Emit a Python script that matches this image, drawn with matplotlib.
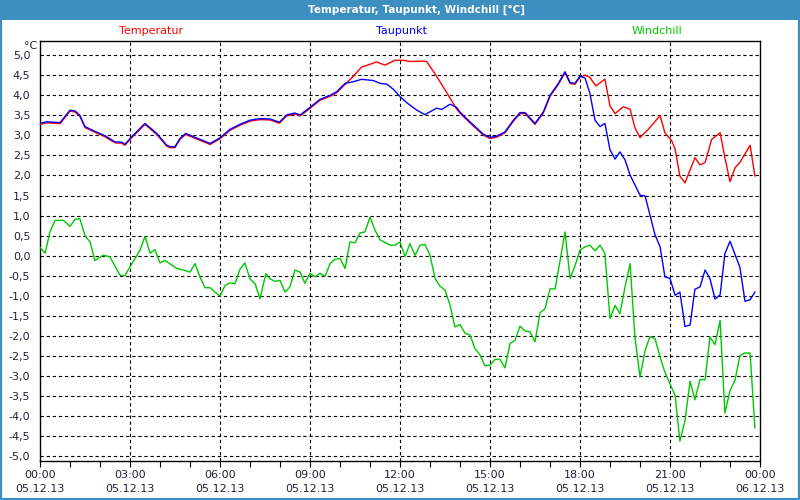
import matplotlib
matplotlib.use("Agg")
import matplotlib.pyplot as plt
import matplotlib.transforms as mtransforms
from matplotlib.patches import Rectangle
from matplotlib.ticker import MultipleLocator, FuncFormatter

# hours since 05.12.13 00:00
shared_h1 = [0, 0.22, 0.67, 1.0, 1.17, 1.33, 1.5, 1.78, 2.17, 2.5, 2.72, 2.83, 3.06, 3.5,
             3.89, 4.22, 4.33, 4.5, 4.67, 4.86, 5.11, 5.44, 5.67, 6.0, 6.33, 6.67, 7.0,
             7.33, 7.67, 7.98, 8.22, 8.5, 8.67, 9.0, 9.33, 9.67, 9.89, 10.17]
shared_v1 = [3.30, 3.34, 3.32, 3.63, 3.61, 3.50, 3.22, 3.12, 2.99, 2.84, 2.83, 2.78, 2.97, 3.30,
             3.05, 2.76, 2.72, 2.72, 2.93, 3.05, 2.97, 2.87, 2.80, 2.94, 3.15, 3.28, 3.38,
             3.42, 3.41, 3.33, 3.51, 3.56, 3.51, 3.70, 3.90, 4.00, 4.09, 4.30]

temp_mid_h = [10.44, 10.72, 11.0, 11.22, 11.5, 11.83, 12.11, 12.33, 12.78, 12.89, 13.22, 13.56, 13.89]
temp_mid_v = [4.50, 4.73, 4.80, 4.86, 4.78, 4.90, 4.90, 4.87, 4.88, 4.87, 4.50, 4.09, 3.68]

dew_mid_h = [10.44, 10.72, 11.11, 11.33, 11.56, 11.78, 12.0, 12.22, 12.56, 12.83, 13.22, 13.39, 13.67, 13.89]
dew_mid_v = [4.34, 4.40, 4.37, 4.30, 4.28, 4.15, 3.97, 3.82, 3.63, 3.52, 3.68, 3.65, 3.78, 3.70]

shared_h2 = [14.0, 14.33, 14.78, 15.0, 15.22, 15.5, 15.78, 16.0, 16.17, 16.5, 16.78, 17.0,
             17.28, 17.5, 17.67, 17.83, 18.0]
shared_v2 = [3.58, 3.34, 3.03, 2.95, 2.98, 3.09, 3.38, 3.57, 3.57, 3.30, 3.59, 4.00,
             4.30, 4.59, 4.32, 4.30, 4.48]

temp_end_h = [18.17, 18.33, 18.53, 18.83, 19.0, 19.17, 19.44, 19.67, 19.83, 20.0, 20.28, 20.67,
              20.83, 21.06, 21.17, 21.33, 21.5, 21.83, 22.0, 22.17, 22.39, 22.67, 22.83, 23.0,
              23.17, 23.33, 23.67, 23.83]
temp_end_v = [4.53, 4.47, 4.26, 4.43, 3.76, 3.57, 3.74, 3.68, 3.22, 2.97, 3.18, 3.52,
              3.09, 2.89, 2.68, 2.01, 1.84, 2.47, 2.29, 2.35, 2.93, 3.09, 2.47, 1.87,
              2.22, 2.35, 2.78, 2.01]

dew_end_h = [18.17, 18.33, 18.5, 18.67, 18.83, 19.0, 19.17, 19.33, 19.5, 19.67, 20.0, 20.17,
             20.5, 20.67, 20.83, 21.0, 21.17, 21.33, 21.5, 21.67, 21.83, 22.0, 22.17, 22.33,
             22.5, 22.67, 22.83, 23.0, 23.33, 23.5, 23.67, 23.83]
dew_end_v = [4.43, 4.05, 3.38, 3.22, 3.30, 2.64, 2.41, 2.59, 2.39, 2.01, 1.51, 1.49,
             0.52, 0.22, -0.53, -0.57, -0.99, -0.91, -1.77, -1.73, -0.84, -0.78, -0.36, -0.57,
             -1.08, -0.98, 0.05, 0.36, -0.29, -1.14, -1.10, -0.91]

wind_h = [0, 0.17, 0.33, 0.5, 0.78, 1.0, 1.17, 1.33, 1.5, 1.67, 1.83, 2.11, 2.33, 2.67, 2.83,
          3.0, 3.33, 3.5, 3.67, 3.83, 4.0, 4.17, 4.56, 4.78, 5.0, 5.17, 5.33, 5.5, 5.67, 5.83,
          6.0, 6.17, 6.33, 6.5, 6.67, 6.83, 7.0, 7.17, 7.33, 7.53, 7.67, 7.83, 8.0, 8.17, 8.33,
          8.5, 8.67, 8.83, 9.0, 9.17, 9.33, 9.5, 9.67, 9.83, 10.0, 10.17, 10.33, 10.5, 10.67,
          10.83, 11.0, 11.17, 11.33, 11.67, 11.83, 12.0, 12.17, 12.33, 12.5, 12.67, 12.83, 13.0,
          13.17, 13.33, 13.5, 13.67, 13.83, 14.0, 14.17, 14.33, 14.5, 14.67, 14.83, 15.0, 15.17,
          15.33, 15.5, 15.67, 15.83, 16.0, 16.17, 16.33, 16.5, 16.67, 16.83, 17.0, 17.17, 17.33,
          17.5, 17.67, 17.83, 18.0, 18.17, 18.33, 18.5, 18.67, 18.83, 19.0, 19.17, 19.33, 19.5,
          19.67, 19.83, 20.0, 20.17, 20.33, 20.5, 20.67, 20.83, 21.0, 21.17, 21.33, 21.5, 21.67,
          21.83, 22.0, 22.17, 22.33, 22.5, 22.67, 22.83, 23.0, 23.17, 23.33, 23.5, 23.67, 23.83]
wind_v = [0.21, 0.06, 0.59, 0.88, 0.88, 0.73, 0.91, 0.92, 0.50, 0.34, -0.12, 0.01, -0.03, -0.49, -0.50,
          -0.28, 0.13, 0.48, 0.06, 0.15, -0.18, -0.12, -0.32, -0.36, -0.41, -0.20, -0.53, -0.80, -0.80, -0.91,
          -1.01, -0.74, -0.68, -0.70, -0.33, -0.18, -0.58, -0.70, -1.08, -0.45, -0.58, -0.64, -0.62, -0.91, -0.78,
          -0.36, -0.41, -0.69, -0.44, -0.53, -0.44, -0.52, -0.20, -0.09, -0.07, -0.32, 0.34, 0.32, 0.57,
          0.59, 0.96, 0.63, 0.40, 0.26, 0.26, 0.34, -0.02, 0.30, 0.01, 0.26, 0.28, 0.01,
          -0.57, -0.76, -0.86, -1.24, -1.78, -1.72, -1.94, -1.98, -2.32, -2.48, -2.75, -2.73, -2.59,
          -2.59, -2.80, -2.19, -2.12, -1.76, -1.88, -1.90, -2.15, -1.42, -1.33, -0.83, -0.83, -0.15,
          0.59, -0.57, -0.26, 0.14, 0.22, 0.26, 0.12, 0.26, 0.05, -1.57, -1.24, -1.45, -0.78,
          -0.20, -2.03, -3.03, -2.37, -2.02, -2.07, -2.53, -2.91, -3.20, -3.49, -4.63, -4.12, -3.13,
          -3.60, -3.09, -3.10, -2.03, -2.22, -1.62, -3.93, -3.37, -3.10, -2.49, -2.43, -2.43, -4.30]

temp_h = shared_h1 + temp_mid_h + shared_h2 + temp_end_h
temp_v = shared_v1 + temp_mid_v + shared_v2 + temp_end_v
dew_h = shared_h1 + dew_mid_h + shared_h2 + dew_end_h
dew_v = shared_v1 + dew_mid_v + shared_v2 + dew_end_v

xtick_labels = ["00:00\n05.12.13", "03:00\n05.12.13", "06:00\n05.12.13", "09:00\n05.12.13",
                "12:00\n05.12.13", "15:00\n05.12.13", "18:00\n05.12.13", "21:00\n05.12.13",
                "00:00\n06.12.13"]

txt = "#20203c"
font = "DejaVu Sans"

fig = plt.figure(figsize=(8, 5), dpi=100)
fig.patch.set_facecolor("white")

# window frame and title bar
frame_col = "#3d8fc2"
fig.patches.append(Rectangle((0, 0), 1, 1, transform=fig.transFigure, fill=False,
                             edgecolor=frame_col, linewidth=3))
fig.patches.append(Rectangle((0, 1 - 20 / 500), 1, 20 / 500, transform=fig.transFigure,
                             facecolor=frame_col, edgecolor="none"))
fig.text(417 / 800, 1 - 10 / 500, "Temperatur, Taupunkt, Windchill [°C]", color="white",
         fontsize=7.5, fontweight="bold", ha="center", va="center", family=font)

ax = fig.add_axes([40 / 800, 39 / 500, 720 / 800, 420.3 / 500])
ax.set_xlim(0, 24)
ax.set_ylim(-5.125, 5.364)

for y in [i * 0.5 for i in range(-10, 11)]:
    ax.axhline(y, color="black", lw=0.8, ls=(0, (3, 2.5)), zorder=1)
for x in range(3, 24, 3):
    ax.axvline(x, color="black", lw=0.8, ls=(0, (3, 2.5)), zorder=1)

# red drawn one pixel lower so it peeks out under the blue line where they coincide
red_tr = mtransforms.offset_copy(ax.transData, fig=fig, x=0, y=-1, units="dots")
ax.plot(temp_h, temp_v, color="#ff0000", lw=1.0, zorder=3, transform=red_tr)
ax.plot(dew_h, dew_v, color="#0000ff", lw=1.0, zorder=4)
ax.plot(wind_h, wind_v, color="#00c800", lw=1.0, zorder=3)

ax.yaxis.set_major_locator(MultipleLocator(0.5))
ax.yaxis.set_major_formatter(FuncFormatter(lambda v, p: ("%.1f" % v).replace(".", ",")))
ax.tick_params(axis="y", length=0, pad=7, labelsize=8, labelcolor=txt)
ax.set_xticks(range(0, 25, 3))
ax.set_xticklabels(xtick_labels, linespacing=1.55)
ax.xaxis.set_minor_locator(MultipleLocator(1))
ax.tick_params(axis="x", which="both", direction="out", length=4, width=0.8,
               labelsize=8, labelcolor=txt, pad=2.5)
for lab in ax.get_xticklabels() + ax.get_yticklabels():
    lab.set_family(font)
for s in ax.spines.values():
    s.set_color("black")
    s.set_linewidth(1)

fig.text(31 / 800, 1 - 46 / 500, "°C", fontsize=8, color=txt, ha="center", va="center", family=font)
fig.text(119 / 800, 1 - 31 / 500, "Temperatur", fontsize=8, color="#ff0000", ha="left", va="center", family=font)
fig.text(376 / 800, 1 - 31 / 500, "Taupunkt", fontsize=8, color="#0000ff", ha="left", va="center", family=font)
fig.text(632 / 800, 1 - 31 / 500, "Windchill", fontsize=8, color="#00c800", ha="left", va="center", family=font)

fig.savefig("out.png", dpi=100, facecolor="white")
